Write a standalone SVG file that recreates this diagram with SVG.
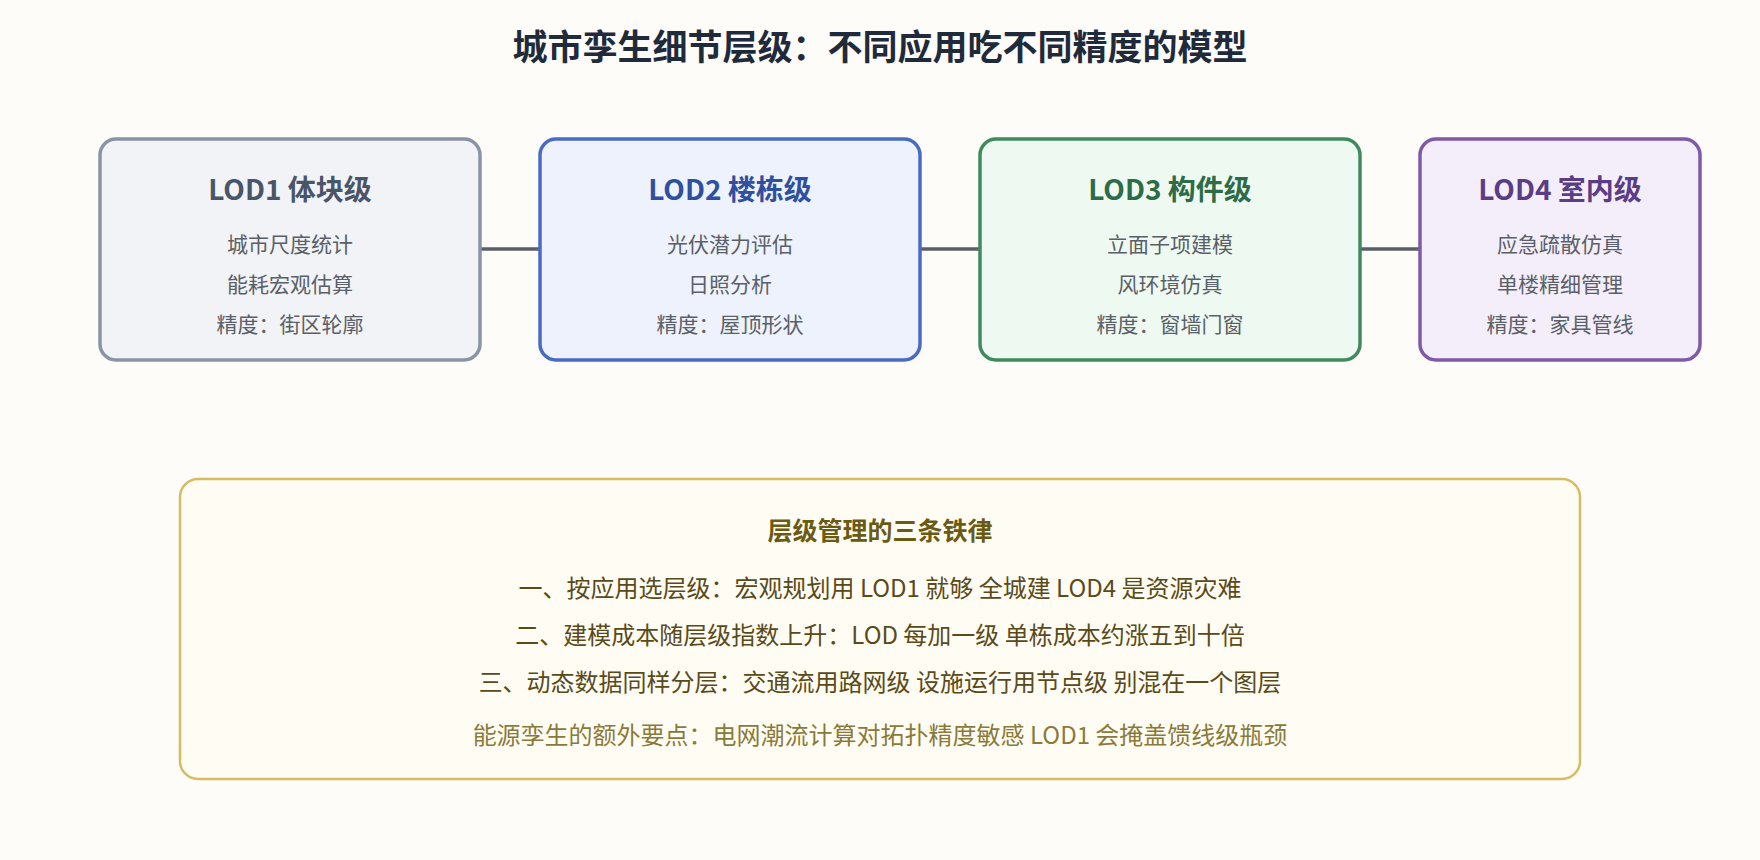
<svg xmlns="http://www.w3.org/2000/svg" width="1760" height="860" viewBox="0 0 1760 860">
<style>
text{font-family:"Noto Sans CJK SC","Noto Sans",sans-serif;text-anchor:middle}
.t{font-size:28px;font-weight:bold}
.b{font-size:21px;fill:#5a5f68}
.l{font-size:24px;fill:#5a4a1a}
</style>
<rect width="1760" height="860" fill="#fdfcf9"/>
<text x="880" y="60" style="font-size:35px;font-weight:bold;fill:#1f2a3a">城市孪生细节层级：不同应用吃不同精度的模型</text>
<g id="connectors" stroke="#5a5f68" stroke-width="3.5">
<line x1="480" y1="249" x2="540" y2="249"/>
<line x1="920" y1="249" x2="980" y2="249"/>
<line x1="1360" y1="249" x2="1420" y2="249"/>
</g>
<g id="lod1"><rect x="100" y="139" width="380" height="221" rx="16" fill="#f1f3f7" stroke="#8a94a6" stroke-width="3.5"/>
<text x="290" y="200" class="t" fill="#4a5568">LOD1 体块级</text>
<text x="290" y="252" class="b">城市尺度统计</text><text x="290" y="292" class="b">能耗宏观估算</text><text x="290" y="332" class="b">精度：街区轮廓</text></g>
<g id="lod2"><rect x="540" y="139" width="380" height="221" rx="16" fill="#edf2fc" stroke="#4a6bc4" stroke-width="3.5"/>
<text x="730" y="200" class="t" fill="#2f4f9f">LOD2 楼栋级</text>
<text x="730" y="252" class="b">光伏潜力评估</text><text x="730" y="292" class="b">日照分析</text><text x="730" y="332" class="b">精度：屋顶形状</text></g>
<g id="lod3"><rect x="980" y="139" width="380" height="221" rx="16" fill="#eefaf1" stroke="#3f8a5e" stroke-width="3.5"/>
<text x="1170" y="200" class="t" fill="#2e6b47">LOD3 构件级</text>
<text x="1170" y="252" class="b">立面子项建模</text><text x="1170" y="292" class="b">风环境仿真</text><text x="1170" y="332" class="b">精度：窗墙门窗</text></g>
<g id="lod4"><rect x="1420" y="139" width="280" height="221" rx="16" fill="#f4eefa" stroke="#7f5aa8" stroke-width="3.5"/>
<text x="1560" y="200" class="t" fill="#5a3d85">LOD4 室内级</text>
<text x="1560" y="252" class="b">应急疏散仿真</text><text x="1560" y="292" class="b">单楼精细管理</text><text x="1560" y="332" class="b">精度：家具管线</text></g>
<g id="rules"><rect x="180" y="479" width="1400" height="300" rx="18" fill="#fffdf3" stroke="#d4bd62" stroke-width="2.5"/>
<text x="880" y="540" style="font-size:25px;font-weight:bold;fill:#6b5a12">层级管理的三条铁律</text>
<text x="880" y="597" class="l">一、按应用选层级：宏观规划用 LOD1 就够 全城建 LOD4 是资源灾难</text>
<text x="880" y="644" class="l">二、建模成本随层级指数上升：LOD 每加一级 单栋成本约涨五到十倍</text>
<text x="880" y="691" class="l">三、动态数据同样分层：交通流用路网级 设施运行用节点级 别混在一个图层</text>
<text x="880" y="744" class="l" style="fill:#8a7a3a">能源孪生的额外要点：电网潮流计算对拓扑精度敏感 LOD1 会掩盖馈线级瓶颈</text></g>
</svg>
